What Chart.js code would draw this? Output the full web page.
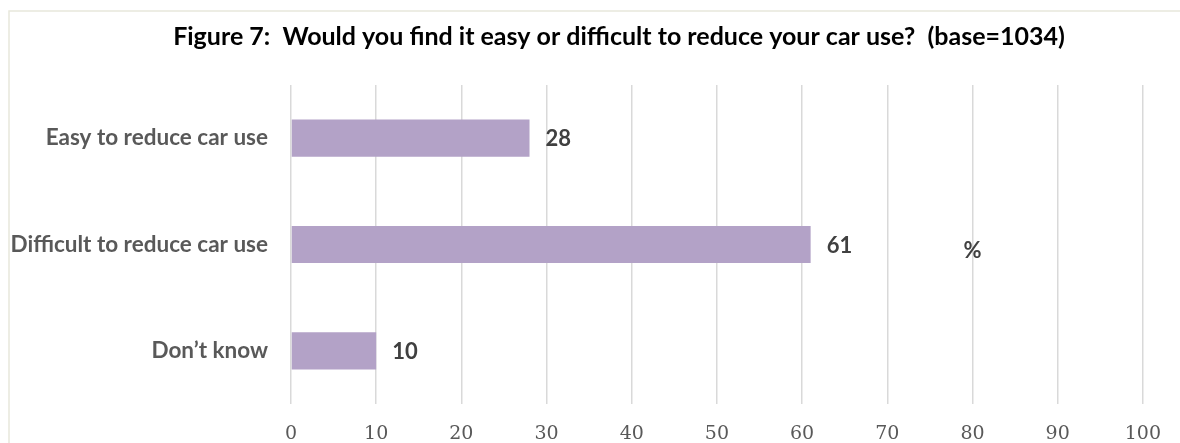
<!DOCTYPE html>
<html>
<head>
<meta charset="utf-8">
<script src="https://cdn.jsdelivr.net/npm/chart.js@4/dist/chart.umd.min.js"></script>
<style>
  html, body { margin: 0; padding: 0; background: #ffffff; }
  #wrap { width: 1180px; height: 443px; position: relative; }
</style>
</head>
<body>
<div id="wrap"><canvas id="carUseChart"></canvas></div>
<script>
// Figure 7 - ease of reducing car use (base=1034)
const categories = ['Easy to reduce car use', 'Difficult to reduce car use', 'Don\u2019t know'];
const percentages = [28, 61, 10];
const xTickValues = [0, 10, 20, 30, 40, 50, 60, 70, 80, 90, 100];

const titleText = 'Figure 7:  Would you find it easy or difficult to reduce your car use?  (base=1034)';
const unitText = '%';

const barColor = '#b3a2c7';
const labelFont = 'Lato, "Open Sans", sans-serif';

// Frame, title, unit marker and value labels
const decorations = {
  id: 'decorations',
  beforeDraw(chart) {
    const ctx = chart.ctx;
    ctx.save();
    ctx.strokeStyle = '#e8e8dc';
    ctx.lineWidth = 1.5;
    ctx.beginPath();
    ctx.moveTo(9, 443);
    ctx.lineTo(9, 11);
    ctx.lineTo(1180, 11);
    ctx.stroke();
    ctx.restore();
  },
  afterDraw(chart) {
    const ctx = chart.ctx;
    ctx.save();
    ctx.fillStyle = '#000000';
    ctx.font = 'bold 25px ' + labelFont;
    ctx.textAlign = 'center';
    ctx.textBaseline = 'middle';
    ctx.fillText(titleText, 619, 37);

    ctx.fillStyle = '#404040';
    ctx.font = 'bold 22px ' + labelFont;
    ctx.fillText(unitText, chart.scales.x.getPixelForValue(80), chart.scales.y.getPixelForValue(1) + 6);

    ctx.textAlign = 'left';
    const meta = chart.getDatasetMeta(0);
    meta.data.forEach((bar, i) => {
      ctx.fillText(String(percentages[i]), bar.x + 16, bar.y + 1);
    });
    ctx.restore();
  }
};

new Chart(document.getElementById('carUseChart'), {
  type: 'bar',
  data: {
    labels: categories,
    datasets: [{
      data: percentages,
      backgroundColor: barColor,
      borderWidth: 0,
      categoryPercentage: 1,
      barPercentage: 0.35
    }]
  },
  options: {
    indexAxis: 'y',
    responsive: true,
    maintainAspectRatio: false,
    animation: false,
    layout: { padding: { top: 85, right: 34, bottom: 0, left: 0 } },
    plugins: {
      legend: { display: false },
      tooltip: { enabled: false }
    },
    scales: {
      x: {
        min: 0,
        max: 100,
        afterBuildTicks(scale) {
          scale.ticks = xTickValues.map(v => ({ value: v }));
        },
        afterFit(scale) { scale.height = 39; },
        border: { display: false },
        grid: { color: '#d9d9d9', lineWidth: 1.5, drawTicks: false },
        ticks: {
          padding: 19,
          color: '#595959',
          font: { family: '"DejaVu Serif", serif', size: 19 }
        }
      },
      y: {
        afterFit(scale) { scale.width = 291; },
        border: { display: false },
        grid: { display: false, drawTicks: false },
        ticks: {
          padding: 23,
          color: '#595959',
          font: { family: labelFont, size: 22.5, weight: 'bold' }
        }
      }
    }
  },
  plugins: [decorations]
});
</script>
</body>
</html>
